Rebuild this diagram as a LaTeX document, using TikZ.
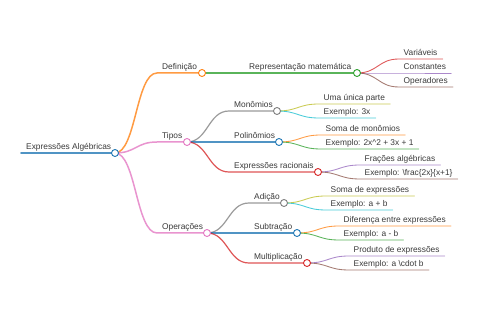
\documentclass[tikz,border=0pt]{standalone}
\usepackage{fontspec}
\setmainfont{Liberation Sans}
\usetikzlibrary{calc}
\definecolor{cblue}{HTML}{1F77B4}
\definecolor{corange}{HTML}{FF7F0E}
\definecolor{cgreen}{HTML}{2CA02C}
\definecolor{cred}{HTML}{D62728}
\definecolor{cpurple}{HTML}{9467BD}
\definecolor{cbrown}{HTML}{8C564B}
\definecolor{cpink}{HTML}{E377C2}
\definecolor{cgray}{HTML}{7F7F7F}
\definecolor{colive}{HTML}{BCBD22}
\definecolor{ccyan}{HTML}{17BECF}
\definecolor{txt}{HTML}{3A3A3A}
\pgfdeclarelayer{bg}
\pgfdeclarelayer{paper}
\pgfsetlayers{paper,bg,main}
\tikzset{
  dot/.style={circle, fill=white, minimum size=7pt, inner sep=0pt, line width=0.9pt},
  lbl/.style={anchor=base west, inner sep=0pt, text=txt, font=\fontsize{8.35}{10}\selectfont},
  edgeop/.style={draw opacity=0.78, line cap=round}
}
% #1 name, #2 parent, #3 x0, #4 y, #5 circle x, #6 colour, #7 width, #8 text
\newcommand\mmInner[8]{%
  \coordinate (s-#1) at (#3,#4);
  \node[lbl] (t-#1) at ($(s-#1)+(5,-3)$) {#8};
  \node[dot, draw=#6] (#1) at (#5,#4) {};
  \begin{pgfonlayer}{bg}
    \draw[#6, line width=#7, edgeop] (#2.center) .. controls +(21,0) and +(-21,0) .. (s-#1) -- (#1.center);
  \end{pgfonlayer}
}
% #1 name, #2 parent, #3 x0, #4 y, #5 colour, #6 text
\newcommand\mmLeaf[6]{%
  \coordinate (s-#1) at (#3,#4);
  \node[lbl] (t-#1) at ($(s-#1)+(4.5,-3)$) {#6};
  \coordinate (e-#1) at ($(s-#1 -| t-#1.east)+(5,0)$);
  \begin{pgfonlayer}{bg}
    \draw[#5, line width=0.85, edgeop] (#2.center) .. controls +(21,0) and +(-21,0) .. (s-#1) -- (e-#1);
  \end{pgfonlayer}
}
\begin{document}
\begin{tikzpicture}[x=1pt,y=-1pt]
\begin{pgfonlayer}{paper}
  \fill[white] (0,0) rectangle (480,320);
\end{pgfonlayer}
\useasboundingbox (0,0) rectangle (480,320);
% root
\coordinate (s-root) at (21,153);
\node[lbl] (t-root) at (26,150) {Expressões Algébricas};
\node[dot, draw=cblue] (root) at (115,153) {};
\begin{pgfonlayer}{bg}
  \draw[cblue, line width=1.8, edgeop] (s-root) -- (root.center);
\end{pgfonlayer}
% level 1
\mmInner{def}{root}{157}{73}{202}{corange}{1.5}{Definição}
\mmInner{tip}{root}{157}{142}{187}{cpink}{1.5}{Tipos}
\mmInner{ope}{root}{157}{233}{207}{cpink}{1.5}{Operações}
% level 2
\mmInner{rep}{def}{244}{73}{357}{cgreen}{1.2}{Representação matemática}
\mmInner{mon}{tip}{229}{111}{277}{cgray}{1.2}{Monômios}
\mmInner{pol}{tip}{229}{142}{279}{cblue}{1.2}{Polinômios}
\mmInner{rac}{tip}{229}{172}{318}{cred}{1.2}{Expressões racionais}
\mmInner{adi}{ope}{249}{203}{284}{cgray}{1.2}{Adição}
\mmInner{sub}{ope}{249}{233}{297}{cblue}{1.2}{Subtração}
\mmInner{mul}{ope}{249}{263}{307}{cred}{1.2}{Multiplicação}
% leaves
\mmLeaf{var}{rep}{399}{59}{cred}{Variáveis}
\mmLeaf{con}{rep}{399}{73}{cpurple}{Constantes}
\mmLeaf{opr}{rep}{399}{87}{cbrown}{Operadores}
\mmLeaf{uma}{mon}{319}{104}{colive}{Uma única parte}
\mmLeaf{ex1}{mon}{319}{118}{ccyan}{Exemplo: 3x}
\mmLeaf{som}{pol}{321}{135}{corange}{Soma de monômios}
\mmLeaf{ex2}{pol}{321}{149}{cgreen}{Exemplo: 2x\textasciicircum 2 + 3x + 1}
\mmLeaf{fra}{rac}{360}{165}{cpurple}{Frações algébricas}
\mmLeaf{ex3}{rac}{360}{179}{cbrown}{Exemplo: \textbackslash frac\{2x\}\{x+1\}}
\mmLeaf{soe}{adi}{326}{196}{colive}{Soma de expressões}
\mmLeaf{ex4}{adi}{326}{210}{ccyan}{Exemplo: a + b}
\mmLeaf{dif}{sub}{339}{226}{corange}{Diferença entre expressões}
\mmLeaf{ex5}{sub}{339}{240}{cgreen}{Exemplo: a - b}
\mmLeaf{pro}{mul}{349}{256}{cpurple}{Produto de expressões}
\mmLeaf{ex6}{mul}{349}{270}{cbrown}{Exemplo: a \textbackslash cdot b}
\end{tikzpicture}
\end{document}
